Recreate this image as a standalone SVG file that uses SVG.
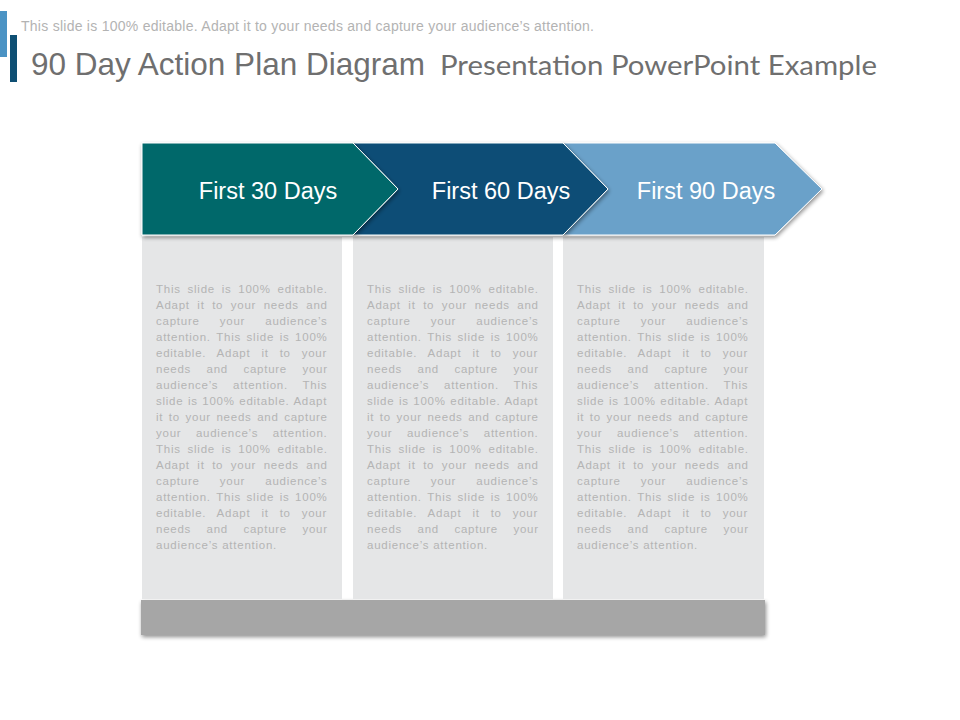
<svg xmlns="http://www.w3.org/2000/svg" width="960" height="720" viewBox="0 0 960 720">
<defs>
<filter id="sh" x="-10%" y="-20%" width="130%" height="150%">
<feGaussianBlur in="SourceAlpha" stdDeviation="2"/>
<feOffset dx="1" dy="2" result="b"/>
<feComponentTransfer><feFuncA type="linear" slope="0.45"/></feComponentTransfer>
<feMerge><feMergeNode/><feMergeNode in="SourceGraphic"/></feMerge>
</filter>
<style>
.sub{font-family:"Liberation Sans",Arial,sans-serif;font-size:14px;fill:#b3b3b3}
.ttl{font-family:"Liberation Sans",Arial,sans-serif;font-size:31.5px;fill:#6f6f6f}
.ttl2{font-family:Lato,"Open Sans",sans-serif;font-size:27px;fill:#6f6f6f}
.arr{stroke:#ffffff;stroke-width:1;stroke-linejoin:miter}
.lbl{font-family:"Liberation Sans",Arial,sans-serif;font-size:23.5px;fill:#ffffff;text-anchor:middle}
.box{fill:#e5e6e7}
.body{font-family:"Liberation Sans",Arial,sans-serif;font-size:11.5px;letter-spacing:0.75px;fill:#b4b4b4}
</style>
</defs>
<rect width="960" height="720" fill="#ffffff"/>
<g id="header">
<rect x="0" y="11" width="7" height="46" fill="#4b93c4"/>
<rect x="10" y="35" width="7" height="47" fill="#0e4f73"/>
<text class="sub" x="21" y="31" textLength="573" lengthAdjust="spacing">This slide is 100% editable. Adapt it to your needs and capture your audience’s attention.</text>
<text class="ttl" x="31" y="75">90 Day Action Plan Diagram</text>
<text class="ttl2" x="440" y="75" textLength="437" lengthAdjust="spacingAndGlyphs">Presentation PowerPoint Example</text>
</g>
<g id="footer">
<rect x="141" y="600" width="624" height="35" fill="#a6a6a6" filter="url(#sh)"/>
</g>
<g id="box-30">
<rect class="box" x="142" y="237" width="200" height="362"/>
<g class="body">
<text x="156" y="293" word-spacing="2.85">This slide is 100% editable.</text>
<text x="156" y="309" word-spacing="3.6">Adapt it to your needs and</text>
<text x="156" y="325" word-spacing="16.2">capture your audience’s</text>
<text x="156" y="341" word-spacing="1.7">attention. This slide is 100%</text>
<text x="156" y="357" word-spacing="7.05">editable. Adapt it to your</text>
<text x="156" y="373" word-spacing="11.5">needs and capture your</text>
<text x="156" y="389" word-spacing="10.9">audience’s attention. This</text>
<text x="156" y="405" word-spacing="0.6">slide is 100% editable. Adapt</text>
<text x="156" y="421" word-spacing="1.64">it to your needs and capture</text>
<text x="156" y="437" word-spacing="10.6">your audience’s attention.</text>
<text x="156" y="453" word-spacing="2.85">This slide is 100% editable.</text>
<text x="156" y="469" word-spacing="3.6">Adapt it to your needs and</text>
<text x="156" y="485" word-spacing="16.2">capture your audience’s</text>
<text x="156" y="501" word-spacing="1.7">attention. This slide is 100%</text>
<text x="156" y="517" word-spacing="7.05">editable. Adapt it to your</text>
<text x="156" y="533" word-spacing="11.5">needs and capture your</text>
<text x="156" y="549">audience’s attention.</text>
</g>
</g>
<g id="box-60">
<rect class="box" x="353" y="237" width="200" height="362"/>
<g class="body">
<text x="367" y="293" word-spacing="2.85">This slide is 100% editable.</text>
<text x="367" y="309" word-spacing="3.6">Adapt it to your needs and</text>
<text x="367" y="325" word-spacing="16.2">capture your audience’s</text>
<text x="367" y="341" word-spacing="1.7">attention. This slide is 100%</text>
<text x="367" y="357" word-spacing="7.05">editable. Adapt it to your</text>
<text x="367" y="373" word-spacing="11.5">needs and capture your</text>
<text x="367" y="389" word-spacing="10.9">audience’s attention. This</text>
<text x="367" y="405" word-spacing="0.6">slide is 100% editable. Adapt</text>
<text x="367" y="421" word-spacing="1.64">it to your needs and capture</text>
<text x="367" y="437" word-spacing="10.6">your audience’s attention.</text>
<text x="367" y="453" word-spacing="2.85">This slide is 100% editable.</text>
<text x="367" y="469" word-spacing="3.6">Adapt it to your needs and</text>
<text x="367" y="485" word-spacing="16.2">capture your audience’s</text>
<text x="367" y="501" word-spacing="1.7">attention. This slide is 100%</text>
<text x="367" y="517" word-spacing="7.05">editable. Adapt it to your</text>
<text x="367" y="533" word-spacing="11.5">needs and capture your</text>
<text x="367" y="549">audience’s attention.</text>
</g>
</g>
<g id="box-90">
<rect class="box" x="563" y="237" width="201" height="362"/>
<g class="body">
<text x="577" y="293" word-spacing="2.85">This slide is 100% editable.</text>
<text x="577" y="309" word-spacing="3.6">Adapt it to your needs and</text>
<text x="577" y="325" word-spacing="16.2">capture your audience’s</text>
<text x="577" y="341" word-spacing="1.7">attention. This slide is 100%</text>
<text x="577" y="357" word-spacing="7.05">editable. Adapt it to your</text>
<text x="577" y="373" word-spacing="11.5">needs and capture your</text>
<text x="577" y="389" word-spacing="10.9">audience’s attention. This</text>
<text x="577" y="405" word-spacing="0.6">slide is 100% editable. Adapt</text>
<text x="577" y="421" word-spacing="1.64">it to your needs and capture</text>
<text x="577" y="437" word-spacing="10.6">your audience’s attention.</text>
<text x="577" y="453" word-spacing="2.85">This slide is 100% editable.</text>
<text x="577" y="469" word-spacing="3.6">Adapt it to your needs and</text>
<text x="577" y="485" word-spacing="16.2">capture your audience’s</text>
<text x="577" y="501" word-spacing="1.7">attention. This slide is 100%</text>
<text x="577" y="517" word-spacing="7.05">editable. Adapt it to your</text>
<text x="577" y="533" word-spacing="11.5">needs and capture your</text>
<text x="577" y="549">audience’s attention.</text>
</g>
</g>
<g id="arrow-90">
<polygon class="arr" points="563,143 775,143 822,189 775,235 563,235 608,189" fill="#6ba1c9" filter="url(#sh)"/>
<text class="lbl" x="706" y="199">First 90 Days</text>
</g>
<g id="arrow-60">
<polygon class="arr" points="353,143 563,143 608,189 563,235 353,235 398,189" fill="#074e76" filter="url(#sh)"/>
<text class="lbl" x="501" y="199">First 60 Days</text>
</g>
<g id="arrow-30">
<polygon class="arr" points="142,143 353,143 398,189 353,235 142,235" fill="#05676b" filter="url(#sh)"/>
<text class="lbl" x="268" y="199">First 30 Days</text>
</g>
</svg>
